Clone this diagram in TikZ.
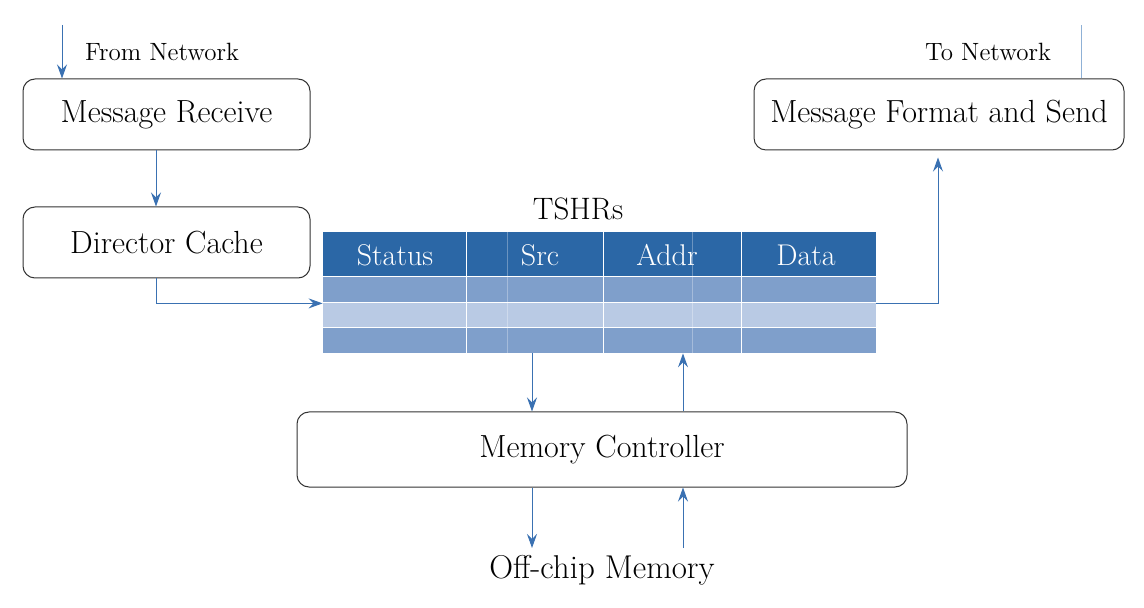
\documentclass[tikz,border=0pt]{standalone}
\usetikzlibrary{arrows.meta}
\usetikzlibrary{calc}

\definecolor{hdrblue}{HTML}{2B67A6}
\definecolor{rowdark}{HTML}{7F9FCB}
\definecolor{rowlight}{HTML}{B9CAE4}
\definecolor{flowblue}{HTML}{3A71B2}
\definecolor{netblue}{HTML}{8FB1D6}

\begin{document}
\begin{tikzpicture}[x=0.5pt, y=-0.5pt,
    blk/.style={draw=black!80, line width=0.5pt, rounded corners=6pt, inner sep=0pt, font=\fontsize{16}{19}\selectfont},
    flow/.style={draw=flowblue, line width=0.5pt, -{Stealth[length=7pt, width=5pt, inset=2.5pt]}},
    row/.style={inner sep=0pt, minimum width=276.5pt},
    hdrtxt/.style={text=white, font=\fontsize{15}{18}\selectfont},
    small/.style={font=\fontsize{12.5}{15}\selectfont}]
      \useasboundingbox (0,0) rectangle (1144,608);

      \coordinate (fromnet) at (62,25);
      \coordinate (tonet) at (1081,25);
      \coordinate (lcol) at (156,0);
      \coordinate (rcol) at (938,0);
      \coordinate (dn) at (532,0);
      \coordinate (up) at (683,0);

      \node[blk, minimum width=143.5pt, minimum height=35.5pt] (mr) at (166.5,114.5) {Message Receive};
      \node[blk, minimum width=143.5pt, minimum height=35.5pt] (dc) at (166.5,242.5) {Director Cache};
      \node[blk, minimum width=185pt, minimum height=35.5pt] (mfs) at (939,114.5) {Message Format and Send};
      \node[blk, minimum width=305pt, minimum height=37.5pt] (mc) at (602,449.5) {Memory Controller};
      \node[font=\fontsize{16.5}{19}\selectfont] (off) at (602,570) {Off-chip Memory};

      \node[small, anchor=west] (fromlbl) at (78,52) {From Network};
      \node[small, anchor=east] (tolbl) at (1058,52) {To Network};

      % TSHR table
      \node[font=\fontsize{15.5}{18}\selectfont] (tshrlbl) at (578,209) {TSHRs};
      \node[row, fill=hdrblue, minimum height=22.5pt] (hdr) at (599.5,254.5) {};
      \node[row, fill=rowdark, minimum height=13pt] (r1) at (599.5,290) {};
      \node[row, fill=rowlight, minimum height=12.5pt] (r2) at (599.5,315.5) {};
      \node[row, fill=rowdark, minimum height=12.5pt] (r3) at (599.5,340.5) {};
      \foreach \cy in {277,303,328}
        \draw[white, line width=0.5pt] (323,\cy) -- (876,\cy);
      \foreach \cx in {466,603,741}
        \draw[white, line width=0.5pt] (\cx,232) -- (\cx,353);
      \foreach \cx in {507,692}
        \draw[white, opacity=0.3, line width=0.5pt] (\cx,232) -- (\cx,353);
      \node[hdrtxt] (hstatus) at (395,255) {Status};
      \node[hdrtxt] (hsrc) at (540,255) {Src};
      \node[hdrtxt] (haddr) at (667,255) {Addr};
      \node[hdrtxt] (hdata) at (806,255) {Data};

      \draw[flow] (fromnet) -- (mr.north -| fromnet);
      \draw[draw=netblue, line width=0.5pt] (mfs.north -| tonet) -- (tonet);
      \draw[flow] (mr.south -| lcol) -- (dc.north -| lcol);
      \draw[flow] (dc.south -| lcol) |- (r1.south west);
      \draw[flow, shorten >=3.5pt] (r1.south east) -| (mfs.south -| rcol);
      \draw[flow] (r3.south -| dn) -- (mc.north -| dn);
      \draw[flow] (mc.north -| up) -- (r3.south -| up);
      \draw[flow] (mc.south -| dn) -- (off.north -| dn);
      \draw[flow] (off.north -| up) -- (mc.south -| up);
\end{tikzpicture}
\end{document}
